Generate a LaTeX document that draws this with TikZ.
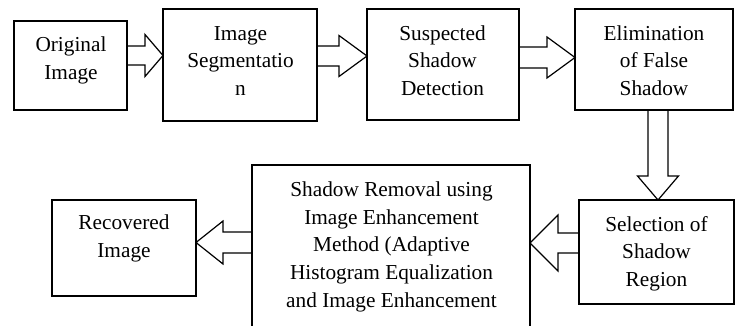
\documentclass[tikz,border=0pt]{standalone}
\usepackage{fontspec}
\setmainfont{Liberation Serif}
\usetikzlibrary{calc}
\tikzset{
  box/.style={draw=black, line width=1.6pt, outer sep=0pt, inner sep=0pt, fill=white},
  txt/.style={inner sep=0pt, align=center, font=\fontsize{21.3}{27.7}\selectfont},
  barrow/.style={draw=black, line width=1.2pt, line join=miter}
}
% horizontal block arrow: from anchor, to anchor, y centre, shaft half width, head half width, signed head length
\newcommand\harrow[6]{\draw[barrow] let \p1=(#1),\p2=(#2) in
  (\x1,-#3pt+#4pt) -- (\x2-#6pt,-#3pt+#4pt) -- (\x2-#6pt,-#3pt+#5pt) -- (\x2,-#3pt)
  -- (\x2-#6pt,-#3pt-#5pt) -- (\x2-#6pt,-#3pt-#4pt) -- (\x1,-#3pt-#4pt);}
% vertical (downward) block arrow
\newcommand\varrow[6]{\draw[barrow] let \p1=(#1),\p2=(#2) in
  (#3pt-#4pt,\y1) -- (#3pt-#4pt,\y2+#6pt) -- (#3pt-#5pt,\y2+#6pt) -- (#3pt,\y2)
  -- (#3pt+#5pt,\y2+#6pt) -- (#3pt+#4pt,\y2+#6pt) -- (#3pt+#4pt,\y1);}
\begin{document}
\begin{tikzpicture}[x=1pt,y=-1pt]
\useasboundingbox (0,0) rectangle (741,326);
\clip (0,0) rectangle (741,326);
% boxes
\node[box, minimum width=113pt, minimum height=89pt]  (b1) at (70.5,65.5) {};
\node[box, minimum width=154pt, minimum height=112pt] (b2) at (240,65) {};
\node[box, minimum width=152pt, minimum height=111pt] (b3) at (443,64.5) {};
\node[box, minimum width=158pt, minimum height=101pt] (b4) at (654,59.5) {};
\node[box, minimum width=155pt, minimum height=104pt] (b5) at (656.5,252) {};
\node[box, minimum width=278pt, minimum height=180pt] (b6) at (391,255) {};
\node[box, minimum width=144pt, minimum height=96pt]  (b7) at (124,248) {};
% texts
\node[txt] (t1) at (71,60.3)    {\strut Original\\\strut Image};
\node[txt] (t2) at (240.5,62.2) {\strut Image\\\strut Segmentatio\\\strut n};
\node[txt] (t3) at (442.5,62.2) {\strut Suspected\\\strut Shadow\\\strut Detection};
\node[txt] (t4) at (654,62.2)   {\strut Elimination\\\strut of False\\\strut Shadow};
\node[txt] (t5) at (656.5,253.2){\strut Selection of\\\strut Shadow\\\strut Region};
\node[txt] (t6) at (391.5,246.2){\strut Shadow Removal using\\\strut Image Enhancement\\\strut Method (Adaptive\\\strut Histogram Equalization\\\strut and Image Enhancement};
\node[txt] (t7) at (124,238.3)  {\strut Recovered\\\strut Image};
% block arrows
\harrow{b1.east}{b2.west}{55.5}{9.5}{21}{18}
\harrow{b2.east}{b3.west}{56}{10}{20.5}{28}
\harrow{b3.east}{b4.west}{57.5}{10.5}{20.5}{28}
\varrow{b4.south}{b5.north}{658}{10}{20.5}{24}
\harrow{b5.west}{b6.east}{243}{10}{28}{-28}
\harrow{b6.west}{b7.east}{242.5}{10.5}{21.5}{-27}
\end{tikzpicture}
\end{document}
